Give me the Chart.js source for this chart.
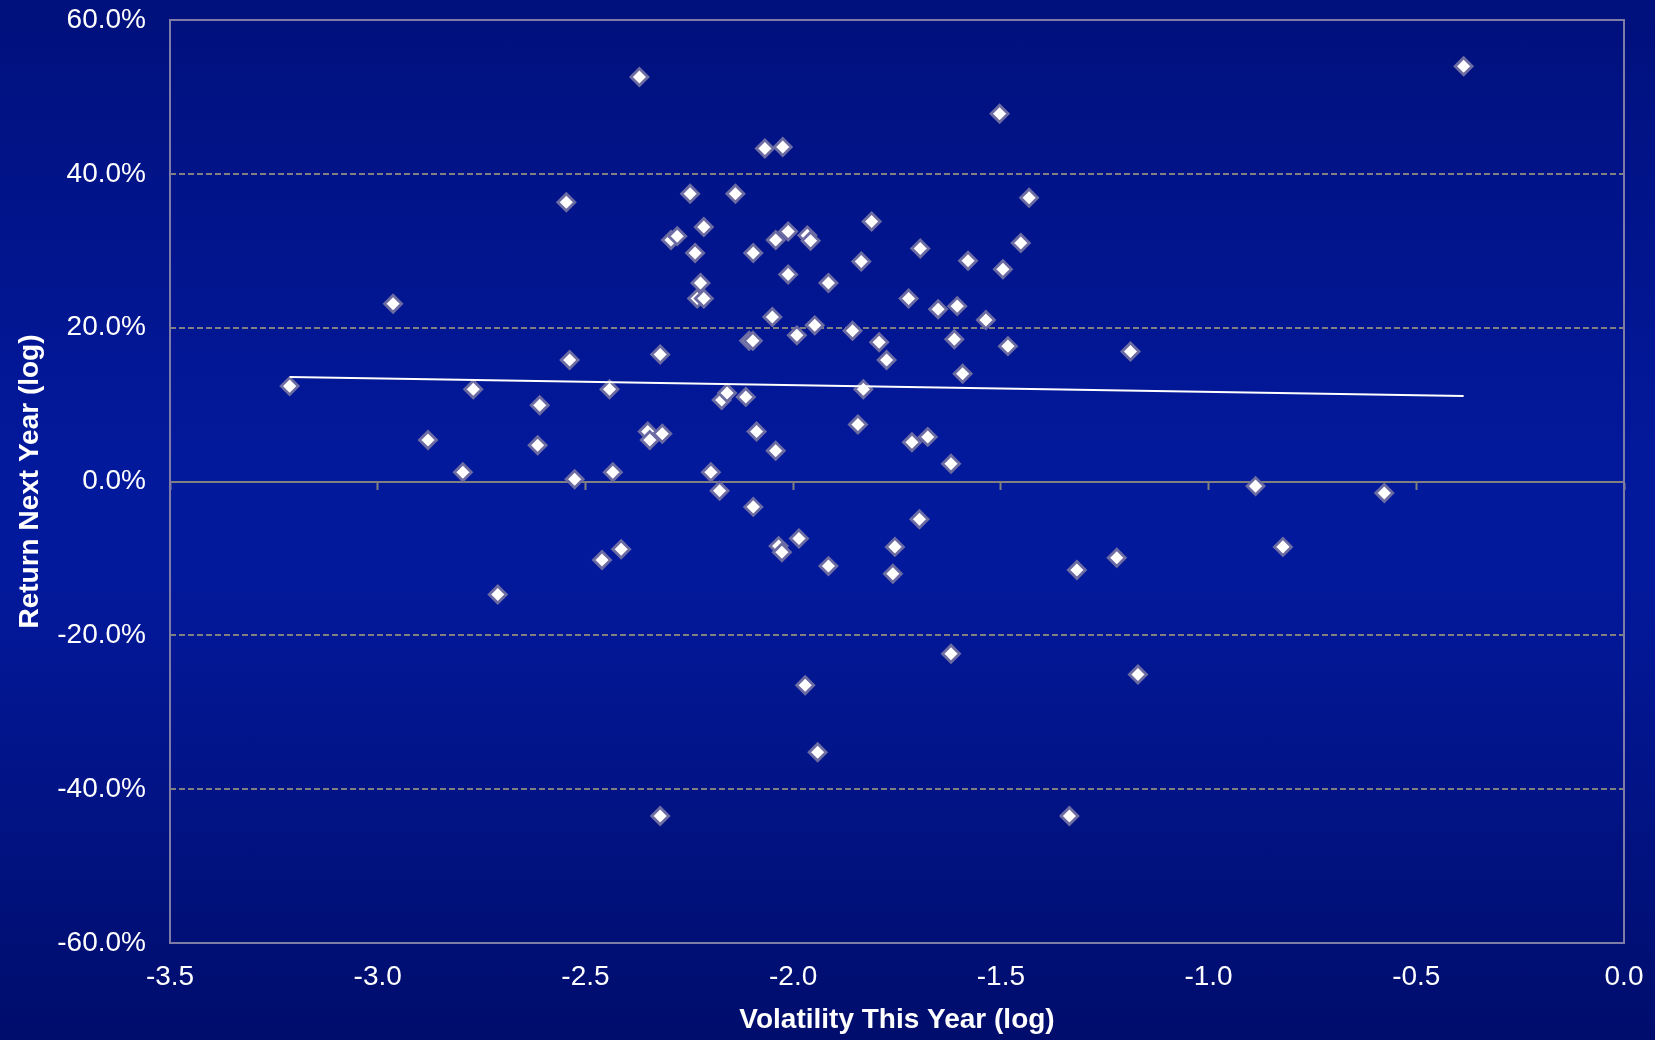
<!DOCTYPE html>
<html>
<head>
<meta charset="utf-8">
<script src="https://cdn.jsdelivr.net/npm/chart.js@4.4.1/dist/chart.umd.min.js"></script>
<style>
    body {
        margin: 0;
        background: linear-gradient(to bottom, #00107c 0%, #03199c 45%, #03199c 55%, #000d6c 100%);
    }
    #wrap {
        width: 1655px;
        height: 1040px;
    }
</style>
</head>
<body>
<div id="wrap"><canvas id="chart" width="1655" height="1040"></canvas></div>
<script>
// Volatility this year (log) and return next year (%), one entry per point
const volatility = [
    -3.212, -2.963, -2.879, -2.795, -2.770, -2.711, -2.610, -2.615, -2.546, -2.538,
    -2.526, -2.460, -2.442, -2.434, -2.414, -2.370, -2.350, -2.345, -2.315, -2.320,
    -2.320, -2.294, -2.279, -2.248, -2.236, -2.215, -2.223, -2.231, -2.215, -2.198,
    -2.177, -2.172, -2.159, -2.139, -2.114, -2.106, -2.097, -2.096, -2.096, -2.088,
    -2.068, -2.050, -2.042, -2.042, -2.035, -2.027, -2.025, -2.012, -2.012, -1.991,
    -1.986, -1.971, -1.966, -1.958, -1.948, -1.941, -1.915, -1.915, -1.857, -1.844,
    -1.836, -1.831, -1.811, -1.793, -1.775, -1.760, -1.755, -1.722, -1.714, -1.696,
    -1.694, -1.676, -1.651, -1.620, -1.620, -1.612, -1.605, -1.592, -1.579, -1.536,
    -1.503, -1.495, -1.483, -1.452, -1.432, -1.335, -1.317, -1.221, -1.188, -1.170,
    -0.887, -0.821, -0.577, -0.386
];
const returnNext = [
    12.4, 23.1, 5.4, 1.2, 12.0, -14.7, 9.9, 4.7, 36.3, 15.8,
    0.3, -10.2, 12.0, 1.2, -8.8, 52.6, 6.5, 5.4, 6.2, 16.5,
    -43.5, 31.4, 31.9, 37.4, 29.7, 33.1, 25.8, 23.8, 23.8, 1.2,
    -1.2, 10.6, 11.5, 37.4, 11.0, 18.3, 18.3, 29.7, -3.3, 6.5,
    43.3, 21.4, 31.4, 4.0, -8.4, -9.2, 43.5, 32.5, 26.9, 19.0,
    -7.4, -26.5, 32.0, 31.3, 20.3, -35.2, 25.8, -11.0, 19.6, 7.4,
    28.6, 12.0, 33.8, 18.1, 15.8, -12.0, -8.5, 23.8, 5.1, -4.9,
    30.3, 5.8, 22.4, 2.3, -22.4, 18.5, 22.8, 14.0, 28.7, 21.0,
    47.8, 27.6, 17.6, 31.0, 36.9, -43.5, -11.5, -9.9, 16.9, -25.1,
    -0.6, -8.5, -1.5, 54.0
];

// Trend line end points
const trendX = [-3.212, -0.386];
const trendY = [13.6, 11.1];

// Axis ranges and steps
const xRange = [-3.5, 0];
const yRange = [-60, 60];
const xStep = 0.5;
const yStep = 20;

const labelFont = { family: 'Liberation Sans, Arial, sans-serif', size: 28 };
const titleFont = { family: 'Liberation Sans, Arial, sans-serif', size: 28, weight: 'bold', lineHeight: 1.2 };

const scatterPoints = volatility.map((v, i) => ({ x: v, y: returnNext[i] }));
const trendPoints = trendX.map((v, i) => ({ x: v, y: trendY[i] }));

// Frame round the plot area
const framePlugin = {
    id: 'frame',
    beforeDatasetsDraw(chart) {
        const { ctx, chartArea } = chart;
        ctx.save();
        ctx.strokeStyle = '#7c7ca6';
        ctx.lineWidth = 2;
        ctx.strokeRect(chartArea.left, chartArea.top, chartArea.right - chartArea.left, chartArea.bottom - chartArea.top);
        ctx.restore();
    }
};

new Chart(document.getElementById('chart'), {
    type: 'scatter',
    data: {
        datasets: [
            {
                type: 'line',
                data: trendPoints,
                borderColor: '#ffffff',
                borderWidth: 2,
                pointRadius: 0,
                fill: false,
                order: 0
            },
            {
                data: scatterPoints,
                pointStyle: 'rectRot',
                pointRadius: 8.5,
                pointBackgroundColor: '#ffffff',
                pointBorderColor: '#6c6ca2',
                pointBorderWidth: 2.8,
                order: 1
            }
        ]
    },
    plugins: [framePlugin],
    options: {
        responsive: false,
        animation: false,
        layout: {
            padding: { top: 20, right: 31, left: 0, bottom: 0 }
        },
        plugins: {
            legend: { display: false },
            tooltip: { enabled: false }
        },
        scales: {
            x: {
                type: 'linear',
                position: 'bottom',
                min: xRange[0],
                max: xRange[1],
                afterFit: scale => { scale.height = 97; },
                ticks: {
                    stepSize: xStep,
                    color: '#ffffff',
                    font: labelFont,
                    padding: 0,
                    maxRotation: 0,
                    callback: v => v.toFixed(1)
                },
                // invisible tick marks only keep the labels off the frame
                grid: {
                    drawOnChartArea: false,
                    drawTicks: true,
                    tickLength: 17,
                    tickColor: 'rgba(0,0,0,0)'
                },
                border: { display: false },
                title: {
                    display: true,
                    text: 'Volatility This Year (log)',
                    color: '#ffffff',
                    font: titleFont,
                    padding: { top: 0, bottom: 3 }
                }
            },
            // zero line with its tick marks
            x2: {
                type: 'linear',
                position: { y: 0 },
                min: xRange[0],
                max: xRange[1],
                ticks: { stepSize: xStep, display: false },
                grid: {
                    drawOnChartArea: false,
                    drawTicks: true,
                    tickLength: 7,
                    tickWidth: 2,
                    tickColor: '#808080'
                },
                border: { display: true, color: '#808080', width: 2 }
            },
            y: {
                type: 'linear',
                min: yRange[0],
                max: yRange[1],
                afterFit: scale => { scale.width = 170; },
                ticks: {
                    stepSize: yStep,
                    color: '#ffffff',
                    font: labelFont,
                    padding: 0,
                    callback: v => v.toFixed(1) + '%'
                },
                grid: {
                    color: '#808080',
                    lineWidth: 2,
                    drawTicks: true,
                    tickLength: 24,
                    tickColor: 'rgba(0,0,0,0)'
                },
                border: { display: false, dash: [6, 3] },
                title: {
                    display: true,
                    text: 'Return Next Year (log)',
                    color: '#ffffff',
                    font: titleFont,
                    padding: { top: 13, bottom: 0 }
                }
            }
        }
    }
});
</script>
</body>
</html>
